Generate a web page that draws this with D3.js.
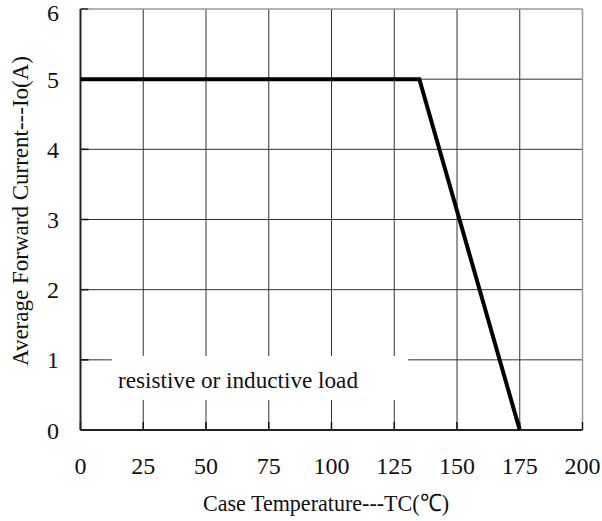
<!DOCTYPE html>
<html lang="en">
<head>
  <meta charset="UTF-8">
  <title>Derating curve</title>
  <script src="https://cdn.jsdelivr.net/npm/d3@7"></script>
  <style>
    body { margin: 0; background: #fff; }
  </style>
</head>
<body>
  <svg width="602" height="521" font-family="Liberation Serif, Times New Roman, serif"></svg>
  <script>
    let xTicks = [0, 25, 50, 75, 100, 125, 150, 175, 200];
    let yTicks = [0, 1, 2, 3, 4, 5, 6];
    let tempC = [0, 135, 175];
    let currentA = [5, 5, 0];

    let svg = d3.select('svg');
    let pLeft = 80.5, pRight = 582.5, pTop = 9, pBottom = 430;

    let x = d3.scaleLinear().domain([0, 200]).range([pLeft, pRight]);
    let y = d3.scaleLinear().domain([0, 6]).range([pBottom, pTop]);

    // grid
    svg.append('g')
      .selectAll('line')
      .data(xTicks.slice(1, -1))
      .join('line')
      .attr('x1', d => x(d)).attr('x2', d => x(d))
      .attr('y1', pTop).attr('y2', pBottom)
      .attr('stroke', '#333').attr('stroke-width', 1);
    svg.append('g')
      .selectAll('line')
      .data(yTicks.slice(1, -1))
      .join('line')
      .attr('x1', pLeft).attr('x2', pRight)
      .attr('y1', d => y(d)).attr('y2', d => y(d))
      .attr('stroke', '#333').attr('stroke-width', 1);

    // inner ticks
    svg.append('g')
      .selectAll('line')
      .data(xTicks)
      .join('line')
      .attr('x1', d => x(d)).attr('x2', d => x(d))
      .attr('y1', pBottom - 8).attr('y2', pBottom)
      .attr('stroke', '#111').attr('stroke-width', 1.5);
    svg.append('g')
      .selectAll('line')
      .data(yTicks)
      .join('line')
      .attr('x1', pLeft).attr('x2', pLeft + 8)
      .attr('y1', d => y(d)).attr('y2', d => y(d))
      .attr('stroke', '#111').attr('stroke-width', 1.5);

    // frame
    svg.append('line').attr('x1', pLeft + 8).attr('x2', pRight).attr('y1', pTop).attr('y2', pTop)
      .attr('stroke', '#999').attr('stroke-width', 1.5);
    svg.append('line').attr('x1', pRight).attr('x2', pRight).attr('y1', pTop).attr('y2', pBottom - 8)
      .attr('stroke', '#999').attr('stroke-width', 1.5);
    svg.append('line').attr('x1', pLeft).attr('x2', pLeft).attr('y1', pTop).attr('y2', pBottom)
      .attr('stroke', '#222').attr('stroke-width', 2);
    svg.append('line').attr('x1', pLeft).attr('x2', pRight).attr('y1', pBottom).attr('y2', pBottom)
      .attr('stroke', '#222').attr('stroke-width', 2);

    // note box
    svg.append('rect')
      .attr('x', x(12.5)).attr('y', 356)
      .attr('width', x(130.5) - x(12.5)).attr('height', 44)
      .attr('fill', '#fff');
    svg.append('text')
      .attr('x', 118).attr('y', 388)
      .attr('font-size', 24)
      .attr('textLength', 240)
      .attr('lengthAdjust', 'spacingAndGlyphs')
      .attr('fill', '#111')
      .text('resistive or inductive load');

    // curve
    let line = d3.line().x((d, i) => x(tempC[i])).y(d => y(d));
    svg.append('path')
      .attr('d', line(currentA))
      .attr('fill', 'none')
      .attr('stroke', '#000')
      .attr('stroke-width', 4);

    // tick labels
    svg.append('g')
      .selectAll('text')
      .data(xTicks)
      .join('text')
      .attr('x', d => x(d))
      .attr('y', 474)
      .attr('text-anchor', 'middle')
      .attr('font-size', 24)
      .attr('fill', '#111')
      .text(d => d);
    svg.append('g')
      .selectAll('text')
      .data(yTicks)
      .join('text')
      .attr('x', 59)
      .attr('y', d => Math.max(y(d) + 8.5, 21))
      .attr('text-anchor', 'end')
      .attr('font-size', 24)
      .attr('fill', '#111')
      .text(d => d);

    // axis titles
    svg.append('text')
      .attr('x', 326).attr('y', 511)
      .attr('text-anchor', 'middle')
      .attr('font-size', 24)
      .attr('textLength', 246)
      .attr('lengthAdjust', 'spacingAndGlyphs')
      .attr('fill', '#111')
      .text('Case Temperature---TC(\u2103)');
    svg.append('text')
      .attr('transform', 'translate(28,211) rotate(-90)')
      .attr('text-anchor', 'middle')
      .attr('font-size', 24)
      .attr('textLength', 310)
      .attr('lengthAdjust', 'spacingAndGlyphs')
      .attr('fill', '#111')
      .text('Average Forward Current---Io(A)');
  </script>
</body>
</html>
